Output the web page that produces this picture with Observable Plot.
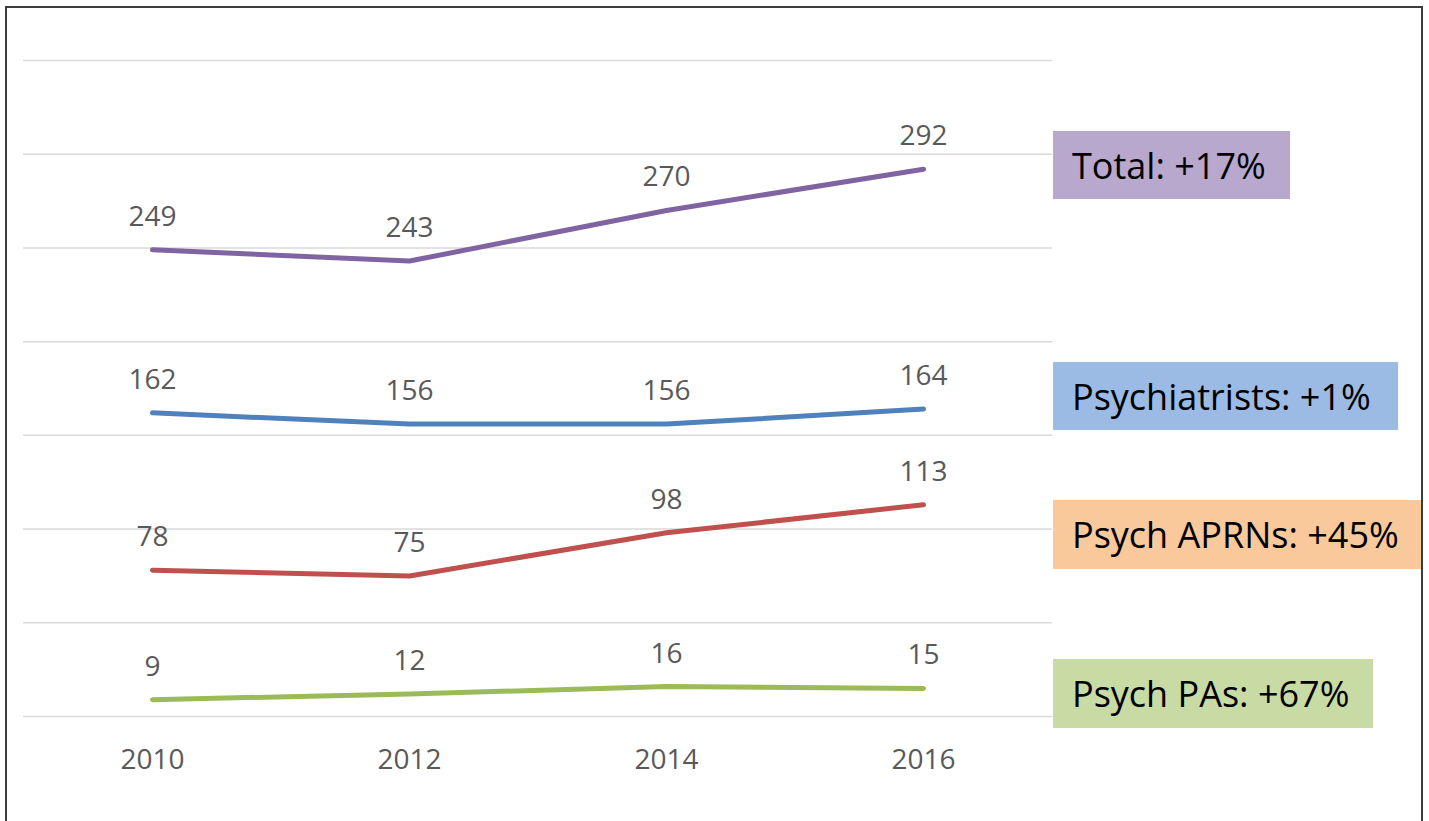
<!DOCTYPE html>
<html>
<head>
<meta charset="utf-8">
<script src="https://cdn.jsdelivr.net/npm/d3@7"></script>
<script src="https://cdn.jsdelivr.net/npm/@observablehq/plot@0.6"></script>
<style>
  html, body { margin: 0; padding: 0; background: #fff; width: 1429px; height: 821px; overflow: hidden; }
  #frame { position: absolute; left: 5px; top: 6px; width: 1418px; height: 900px; box-sizing: border-box; border: 2px solid #3c3c3c; }
  #chart { position: absolute; left: 0; top: 0; }
  .lg { position: absolute; left: 1053px; box-sizing: border-box; padding-left: 19px; display: flex; align-items: center;
        font-family: "Open Sans", sans-serif; font-size: 36px; color: #000; white-space: nowrap; }
</style>
</head>
<body>
<div id="frame"></div>
<div id="chart"></div>
<div id="legend"></div>
<script>
const years = ["2010", "2012", "2014", "2016"];
const seriesNames = ["Total", "Psychiatrists", "Psych APRNs", "Psych PAs"];
const totalValues = [249, 243, 270, 292];
const psychiatristValues = [162, 156, 156, 164];
const aprnValues = [78, 75, 98, 113];
const paValues = [9, 12, 16, 15];
const lineColors = ["#8064A2", "#4F81BD", "#C0504D", "#9BBB59"];
const legendLabels = ["Total: +17%", "Psychiatrists: +1%", "Psych APRNs: +45%", "Psych PAs: +67%"];
const legendColors = ["#B8A8CE", "#9BBBE4", "#F9C89B", "#C9DBA4"];
const yTicks = [0, 50, 100, 150, 200, 250, 300, 350];

const valuesBySeries = [totalValues, psychiatristValues, aprnValues, paValues];
const data = [];
seriesNames.forEach((s, i) => {
  years.forEach((y, j) => data.push({series: s, year: y, value: valuesBySeries[i][j]}));
});

const fontFamily = "'Open Sans', sans-serif";

const chart = Plot.plot({
  width: 1429,
  height: 821,
  marginLeft: 23,
  marginRight: 377,
  marginTop: 60,
  marginBottom: 105,
  style: {background: "transparent", fontFamily: fontFamily},
  x: {type: "point", domain: years, padding: 0.5, label: null},
  y: {domain: [0, 350], axis: null},
  color: {domain: seriesNames, range: lineColors},
  marks: [
    Plot.ruleY(yTicks, {stroke: "#d9d9d9", strokeWidth: 1.5}),
    Plot.axisX({tickSize: 0, tickPadding: 33, fontSize: 28, fill: "#595959", label: null}),
    Plot.line(data, {x: "year", y: "value", z: "series", stroke: "series", strokeWidth: 5, strokeLinecap: "round", strokeLinejoin: "round"}),
    Plot.text(data, {x: "year", y: "value", text: d => String(d.value), lineAnchor: "bottom", dy: -24, fontSize: 28, fill: "#595959"})
  ]
});
document.getElementById("chart").appendChild(chart);

const boxes = [
  {top: 131, width: 237, height: 68},
  {top: 362, width: 345, height: 68},
  {top: 500, width: 368, height: 69},
  {top: 659, width: 320, height: 69}
];
const legend = document.getElementById("legend");
legendLabels.forEach((t, i) => {
  const d = document.createElement("div");
  d.className = "lg";
  d.style.top = boxes[i].top + "px";
  d.style.width = boxes[i].width + "px";
  d.style.height = boxes[i].height + "px";
  d.style.background = legendColors[i];
  d.textContent = t;
  legend.appendChild(d);
});
</script>
</body>
</html>
